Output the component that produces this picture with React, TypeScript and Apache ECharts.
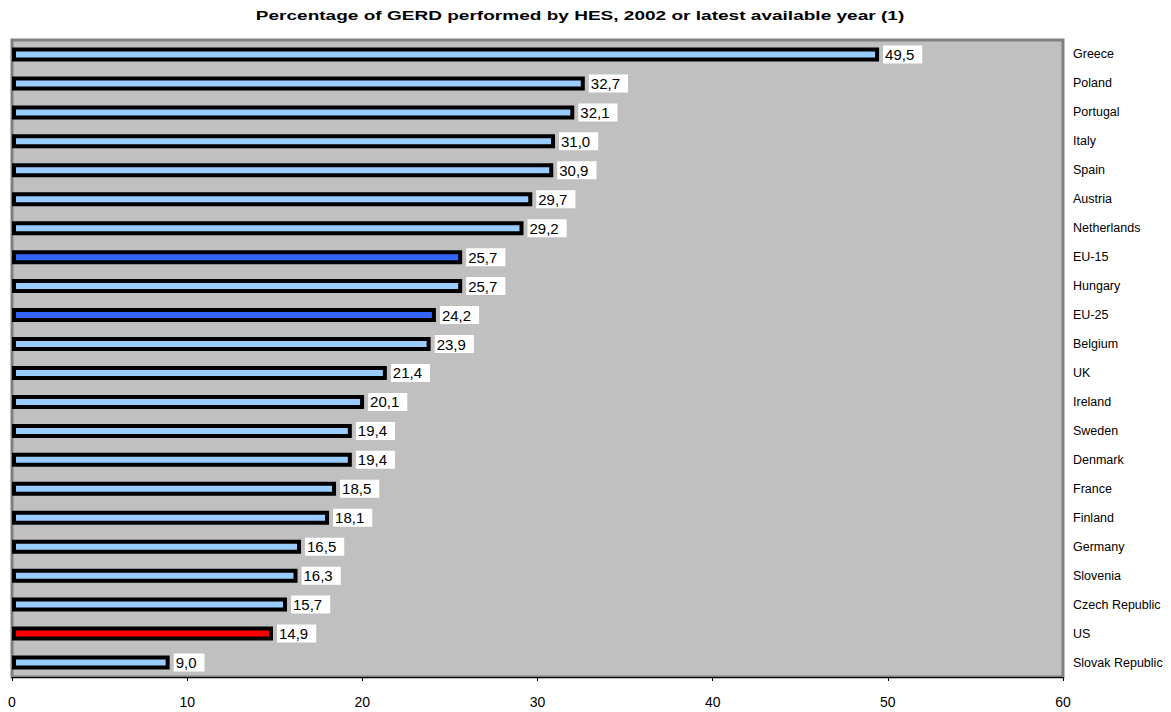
import React, { useEffect, useRef } from "react";
import * as echarts from "echarts";

const TITLE = "Percentage of GERD performed by HES, 2002 or latest available year (1)";
const categories = [
  "Greece", "Poland", "Portugal", "Italy", "Spain", "Austria", "Netherlands",
  "EU-15", "Hungary", "EU-25", "Belgium", "UK", "Ireland", "Sweden", "Denmark",
  "France", "Finland", "Germany", "Slovenia", "Czech Republic", "US", "Slovak Republic",
];
const values = [
  49.5, 32.7, 32.1, 31.0, 30.9, 29.7, 29.2, 25.7, 25.7, 24.2, 23.9, 21.4, 20.1,
  19.4, 19.4, 18.5, 18.1, 16.5, 16.3, 15.7, 14.9, 9.0,
];
const xTicks = [0, 10, 20, 30, 40, 50, 60];

const colorFor = (name: string) =>
  name === "US" ? "#FF0000" : name.startsWith("EU") ? "#3366FF" : "#99CCFF";

const FONT = "Arial, 'Liberation Sans', sans-serif";

export default function App() {
  const ref = useRef<HTMLDivElement>(null);
  useEffect(() => {
    if (!ref.current) return;
    const chart = echarts.init(ref.current, null, { renderer: "svg" });
    chart.setOption({
      animation: false,
      backgroundColor: "#FFFFFF",
      graphic: [
        {
          type: "text",
          x: 580,
          y: 15,
          scaleX: 1.41,
          style: {
            text: TITLE,
            fontFamily: FONT,
            fontSize: 13.5,
            fontWeight: "bold",
            fill: "#000",
            textAlign: "center",
            textVerticalAlign: "middle",
          },
        },
      ],
      grid: {
        left: 12,
        right: 108,
        top: 40,
        bottom: 35,
        show: true,
        backgroundColor: "#C0C0C0",
        borderColor: "#808080",
        borderWidth: 3,
      },
      xAxis: {
        type: "value",
        min: xTicks[0],
        max: xTicks[xTicks.length - 1],
        interval: 10,
        splitLine: { show: false },
        axisLine: { show: true, lineStyle: { color: "#000", width: 1 } },
        axisTick: { show: true, length: 4, lineStyle: { color: "#000" } },
        axisLabel: { fontFamily: FONT, fontSize: 14, color: "#000", margin: 18 },
      },
      yAxis: {
        type: "category",
        data: categories,
        inverse: true,
        position: "right",
        axisLine: { show: false },
        axisTick: { show: false },
        axisLabel: {
          fontFamily: FONT,
          fontSize: 12.5,
          color: "#000",
          margin: 10,
          align: "left",
        },
      },
      series: [
        {
          type: "bar",
          barWidth: 14,
          data: values.map((v, i) => ({
            value: v,
            itemStyle: { color: colorFor(categories[i]) },
          })),
          itemStyle: { borderColor: "#000", borderWidth: 4 },
          label: {
            show: true,
            position: "right",
            distance: 4,
            fontFamily: FONT,
            fontSize: 15,
            color: "#000",
            backgroundColor: "#FFFFFF",
            padding: [2, 8, 1, 2],
            formatter: (p: any) => p.value.toFixed(1).replace(".", ","),
          },
        },
      ],
    });
    return () => chart.dispose();
  }, []);
  return (
    <div
      ref={ref}
      style={{ position: "fixed", left: 0, top: 0, width: 1171, height: 712 }}
    />
  );
}
